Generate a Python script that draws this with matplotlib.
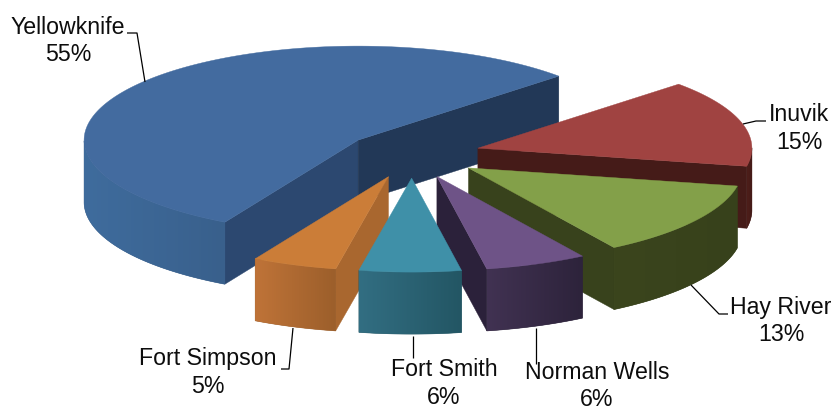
import numpy as np
import matplotlib
matplotlib.use('Agg')
import matplotlib.pyplot as plt
from matplotlib.colors import to_rgb
from matplotlib.patches import Polygon

# NWT share by community, clockwise from the Yellowknife slice
names = ['Yellowknife', 'Inuvik', 'Hay River', 'Norman Wells', 'Fort Smith', 'Fort Simpson']
shares = [55, 15, 13, 6, 6, 5]

top_colors = ['#436b9f', '#a04341', '#83a049', '#6e5387', '#3f90a8', '#cb7d38']
wall_left = ['#3f6c9d', '#4e1e1a', '#3b451d', '#413252', '#326e82', '#bf7338']
wall_right = ['#39608c', '#421a17', '#37411b', '#2d233b', '#235664', '#9c5f2b']
side_colors = {0: ('#2c4870', '#223857'), 1: ('#451b18', '#451b18'), 2: ('#38421c', '#38421c'),
               3: ('#2b213a', '#2b213a'), 4: ('#2b6474', '#2b6474'), 5: ('#a9672f', '#a9672f')}

# pie geometry in pixels
cx, cy = 412, 155.6
rx, ry = 274, 94
depth = 62
explode = 0.25
start_angle = 240.9

draw_order = [0, 1, 2, 3, 5, 4]

# label centre and leader line for each slice
label_pos = {0: (68, 41), 1: (799, 128.5), 2: (781, 321), 3: (597, 386), 4: (444, 383.5), 5: (208, 372.5)}
leaders = {
    0: [(127, 34), (137, 34), (145, 83)],
    1: [(766, 122), (756, 122), (743, 125)],
    2: [(728, 315), (719, 315), (691, 286)],
    3: [(536, 329), (536, 365)],
    4: [(413, 337), (413, 359)],
    5: [(281, 370), (289, 370), (293, 329)],
}


def point(t, ox, oy):
    return ox + rx * np.cos(t), oy - ry * np.sin(t)


def mix(c1, c2, f):
    a, b = np.array(to_rgb(c1)), np.array(to_rgb(c2))
    return tuple(a + (b - a) * f)


fig = plt.figure(figsize=(8.35, 4.10), dpi=100)
ax = fig.add_axes([0, 0, 1, 1])
ax.axis('off')

# slice spans, going clockwise
spans = []
a = start_angle
for s in shares:
    b = a - s * 3.6
    spans.append((a, b))
    a = b


def draw_slice(i, z):
    a, b = np.radians(spans[i])
    mid = (a + b) / 2
    ox = cx + explode * rx * np.cos(mid)
    oy = cy - explode * ry * np.sin(mid)

    # flat walls along the two radii, only where they face the front
    if np.cos(a) < 0:
        x, y = point(a, ox, oy)
        ax.add_patch(Polygon([(ox, oy), (x, y), (x, y + depth), (ox, oy + depth)],
                             fc=side_colors[i][0], ec=side_colors[i][0], lw=0.3, zorder=z))
    if np.cos(b) > 0:
        x, y = point(b, ox, oy)
        ax.add_patch(Polygon([(ox, oy), (x, y), (x, y + depth), (ox, oy + depth)],
                             fc=side_colors[i][1], ec=side_colors[i][1], lw=0.3, zorder=z))

    ts = np.linspace(a, b, 240)
    xs, ys = point(ts, ox, oy)

    # outer rim: horizontal gradient clipped to the part facing the front
    front = np.sin(ts) <= 0.005
    if front.any():
        fx, fy = xs[front], ys[front]
        rim = Polygon(list(zip(fx, fy)) + list(zip(fx[::-1], fy[::-1] + depth)),
                      fc=wall_right[i], ec=wall_right[i], lw=0.4, zorder=z)
        ax.add_patch(rim)
        ramp = np.array([mix(wall_left[i], wall_right[i], f) for f in np.linspace(0, 1, 64)])[None, :, :]
        im = ax.imshow(ramp, extent=(fx.min(), fx.max(), fy.max() + depth, fy.min()),
                       aspect='auto', interpolation='bilinear', zorder=z)
        im.set_clip_path(rim)

    # top face
    verts = [(ox, oy)] + list(zip(xs, ys))
    ax.add_patch(Polygon(verts, fc=top_colors[i], ec=top_colors[i], lw=0.3, zorder=z))


for z, i in enumerate(draw_order):
    draw_slice(i, z + 1)

for i, name in enumerate(names):
    x, y = zip(*leaders[i])
    ax.plot(x, y, color='black', lw=0.9, zorder=20, solid_capstyle='butt')
    ax.text(label_pos[i][0], label_pos[i][1], f'{name}\n{shares[i]}%', ha='center', va='center',
            family='Liberation Sans', fontsize=16.7, color='#0d0d0d', linespacing=1.25, zorder=21)

ax.set_xlim(0, 835)
ax.set_ylim(410, 0)

fig.savefig('out.png', dpi=100)
